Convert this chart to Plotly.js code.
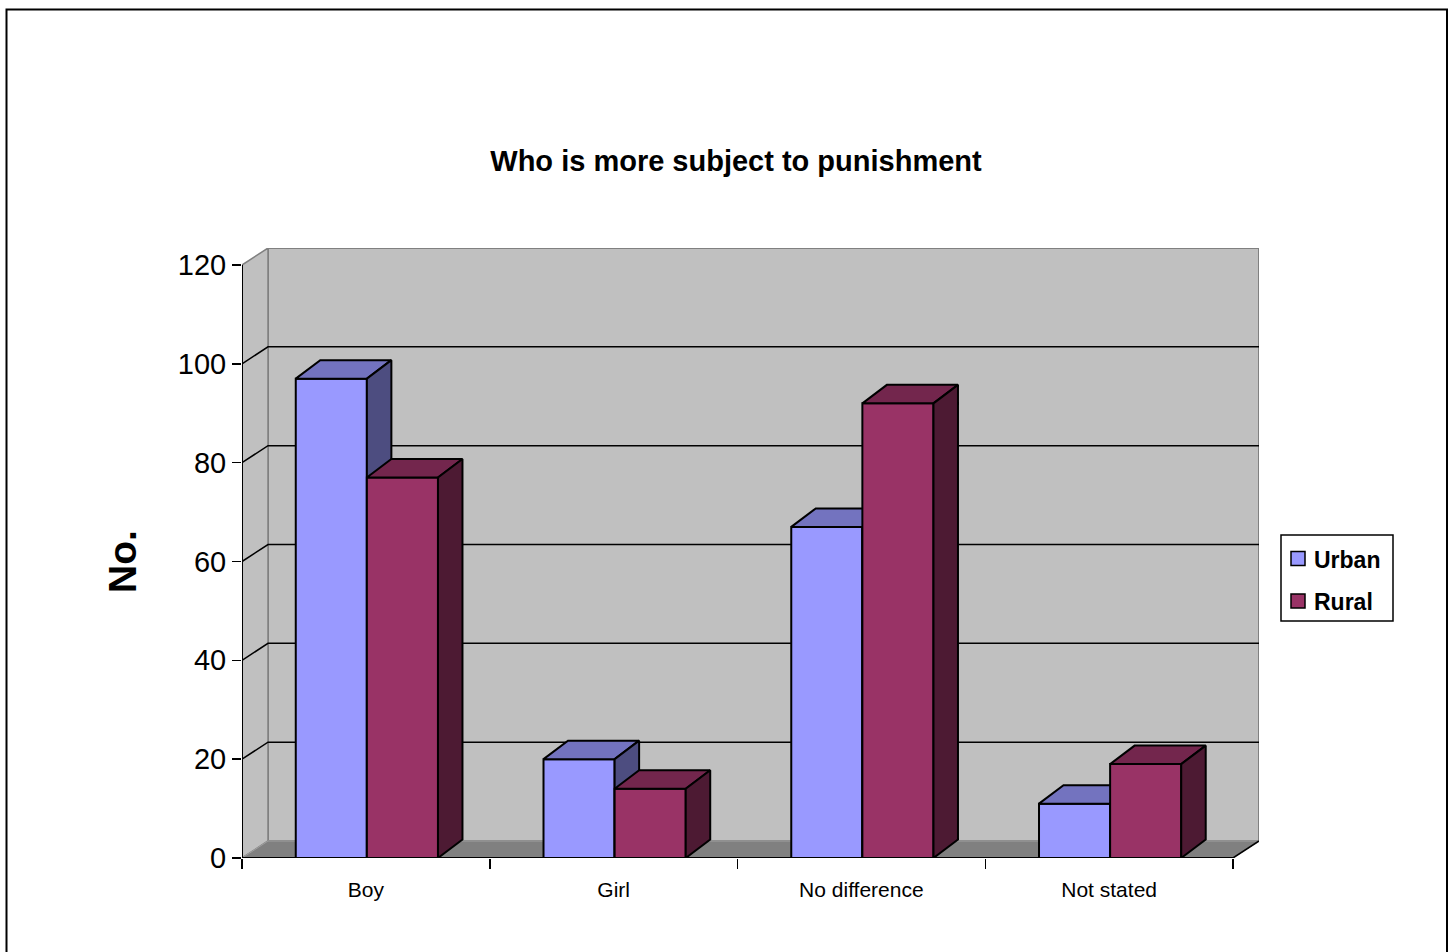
<!DOCTYPE html>
<html>
<head>
<meta charset="utf-8">
<script src="https://cdn.plot.ly/plotly-3.0.1.min.js"></script>
<style>
  html, body { margin: 0; padding: 0; background: #ffffff; }
  #chart { width: 1453px; height: 952px; }
</style>
</head>
<body>
<div id="chart"></div>
<script>
// ---- data ----
const categories = ['Boy', 'Girl', 'No difference', 'Not stated'];
const seriesNames = ['Urban', 'Rural'];
const urbanValues = [97, 20, 67, 11];
const ruralValues = [77, 14, 92, 19];
const yTickValues = [0, 20, 40, 60, 80, 100, 120];
const chartTitle = 'Who is more subject to punishment';
const yAxisTitle = 'No.';

// ---- style ----
const FONT = '"Liberation Sans", Arial, sans-serif';
const frontColors = ['#9999FF', '#993366'];
const topColors = ['#7373BF', '#73264D'];
const sideColors = ['#4D4D80', '#4D1A33'];
const barW = 0.287;            // width of one bar (category units)
const pxPerX = 247.75;         // approx pixels per category
const yMax = yTickValues[yTickValues.length - 1];
const plotH = 610;
const wallDyPx = 17, wallDxPx = 26;
const barDyPx = 18.5, barDxPx = 24.5;
const wdx = wallDxPx / pxPerX;
const wdy = wallDyPx * (yMax + 3.44) / plotH;
const bdx = barDxPx / pxPerX;
const bdy = barDyPx * (yMax + wdy) / plotH;
const n = categories.length;
const xMin = -0.5, xMaxFront = n - 0.5, xMax = xMaxFront + wdx;
const yTop = yMax + wdy;
const barShift = 0.004;

const allSeries = [urbanValues, ruralValues];

function faces(values, sIdx) {
  const f = {x: [], y: []}, t = {x: [], y: []}, s = {x: [], y: []};
  values.forEach((v, i) => {
    const x0 = (sIdx === 0 ? i - barW : i) + barShift;
    const x1 = x0 + barW;
    f.x.push(x0, x1, x1, x0, x0, null); f.y.push(0, 0, v, v, 0, null);
    t.x.push(x0, x1, x1 + bdx, x0 + bdx, x0, null); t.y.push(v, v, v + bdy, v + bdy, v, null);
    s.x.push(x1, x1 + bdx, x1 + bdx, x1, x1, null); s.y.push(0, bdy, v + bdy, v, 0, null);
  });
  return [f, t, s];
}

const traces = [];
allSeries.forEach((vals, sIdx) => {
  const [f, t, s] = faces(vals, sIdx);
  [[f, frontColors[sIdx]], [t, topColors[sIdx]], [s, sideColors[sIdx]]].forEach(([p, c]) => {
    traces.push({
      type: 'scatter', mode: 'lines', x: p.x, y: p.y,
      fill: 'toself', fillcolor: c,
      line: {color: '#000000', width: 2},
      hoverinfo: 'skip', showlegend: false, name: seriesNames[sIdx]
    });
  });
});

// ---- walls, floor, gridlines ----
const shapes = [];
shapes.push({type: 'rect', layer: 'below', xref: 'x', yref: 'y',
  x0: xMin + wdx, x1: xMax, y0: wdy, y1: yTop,
  fillcolor: '#C0C0C0', line: {color: '#808080', width: 2}});
shapes.push({type: 'path', layer: 'below', xref: 'x', yref: 'y',
  path: `M${xMin},0 L${xMin + wdx},${wdy} L${xMin + wdx},${yTop} L${xMin},${yMax} Z`,
  fillcolor: '#C0C0C0', line: {color: '#808080', width: 1.5}});
shapes.push({type: 'path', layer: 'below', xref: 'x', yref: 'y',
  path: `M${xMin},0 L${xMaxFront},0 L${xMax},${wdy} L${xMin + wdx},${wdy} Z`,
  fillcolor: '#808080', line: {color: '#A0A0A0', width: 1}});
yTickValues.forEach(v => {
  if (v === 0 || v === yMax) return;
  shapes.push({type: 'path', layer: 'below', xref: 'x', yref: 'y',
    path: `M${xMin},${v} L${xMin + wdx},${v + wdy} L${xMax},${v + wdy}`,
    line: {color: '#000000', width: 1.5}});
});
shapes.push({type: 'line', layer: 'below', xref: 'x', yref: 'y',
  x0: xMaxFront, y0: 0, x1: xMax, y1: wdy, line: {color: '#000000', width: 1.5}});
shapes.push({type: 'line', layer: 'above', xref: 'x', yref: 'y',
  x0: xMin, y0: 0, x1: xMaxFront, y1: 0, line: {color: '#000000', width: 2}});
shapes.push({type: 'line', layer: 'above', xref: 'x', yref: 'y',
  x0: xMin, y0: 0, x1: xMin, y1: yMax, line: {color: '#000000', width: 2}});

// ---- outer border & legend (paper coords from pixel positions) ----
const L = 242, T = 248, PW = 1017, PH = 610;
const px = p => (p - L) / PW;
const py = p => (T + PH - p) / PH;
shapes.push({type: 'rect', xref: 'paper', yref: 'paper',
  x0: px(6.5), x1: px(1447), y0: py(9.5), y1: py(965),
  line: {color: '#000000', width: 2}});
shapes.push({type: 'rect', xref: 'paper', yref: 'paper',
  x0: px(1281), x1: px(1393), y0: py(535), y1: py(621),
  fillcolor: '#FFFFFF', line: {color: '#000000', width: 1.5}});
const legendRows = [558.5, 601];
const annotations = [];
seriesNames.forEach((name, i) => {
  const cy = legendRows[i];
  shapes.push({type: 'rect', xref: 'paper', yref: 'paper',
    x0: px(1291), x1: px(1305), y0: py(cy - 7), y1: py(cy + 7),
    fillcolor: frontColors[i], line: {color: '#000000', width: 1.5}});
  annotations.push({xref: 'paper', yref: 'paper', x: px(1312), y: py(cy + 1),
    xanchor: 'left', yanchor: 'middle', showarrow: false, text: '<b>' + name + '</b>',
    font: {family: FONT, size: 23, color: '#000000'}});
});
annotations.push({xref: 'paper', yref: 'paper', x: px(122), y: py(562),
  xanchor: 'center', yanchor: 'middle', showarrow: false, textangle: -90,
  text: '<b>' + yAxisTitle + '</b>', font: {family: FONT, size: 39, color: '#000000'}});

const layout = {
  width: 1453, height: 952, autosize: false,
  margin: {l: L, r: 1453 - L - PW, t: T, b: 952 - T - PH, pad: 0},
  paper_bgcolor: '#FFFFFF', plot_bgcolor: 'rgba(0,0,0,0)',
  showlegend: false,
  title: {text: '<b>' + chartTitle + '</b>', xref: 'paper', x: px(736), y: 1 - 161 / 952,
    xanchor: 'center', yanchor: 'middle', font: {family: FONT, size: 29, color: '#000000'}},
  xaxis: {
    range: [xMin, xMax], showgrid: false, zeroline: false, showline: false,
    tickmode: 'array', tickvals: categories.map((c, i) => i), ticktext: categories,
    ticks: 'outside', ticklen: 9, tickcolor: 'rgba(0,0,0,0)', ticklabelstandoff: 4,
    tickfont: {family: FONT, size: 21, color: '#000000'},
    minor: {tickmode: 'array', tickvals: categories.map((c, i) => i - 0.5).concat([n - 0.5]),
      ticks: 'outside', ticklen: 10, tickwidth: 1.5, tickcolor: '#000000', showgrid: false}
  },
  yaxis: {
    range: [0, yTop], showgrid: false, zeroline: false, showline: false,
    tickmode: 'array', tickvals: yTickValues, ticktext: yTickValues.map(String),
    ticks: 'outside', ticklen: 9, tickwidth: 1.5, tickcolor: '#000000', ticklabelstandoff: 0,
    tickfont: {family: FONT, size: 29, color: '#000000'}
  },
  shapes: shapes,
  annotations: annotations
};

Plotly.newPlot('chart', traces, layout, {staticPlot: true, displayModeBar: false});
</script>
</body>
</html>
